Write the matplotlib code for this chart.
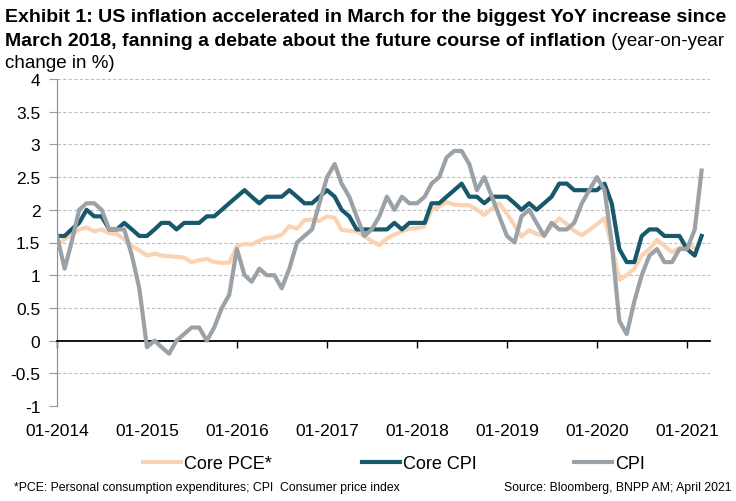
import numpy as np
import pandas as pd
import matplotlib
matplotlib.use('Agg')
import matplotlib.pyplot as plt
import matplotlib.dates as mdates
from matplotlib import font_manager

# monthly YoY % change, Jan 2014 - Mar 2021 (core PCE stops at Feb 2021)
months = pd.date_range('2014-01-01', '2021-03-01', freq='MS')

cpi = [1.6, 1.1, 1.5, 2.0, 2.1, 2.1, 2.0, 1.7, 1.7, 1.7, 1.3, 0.8,
       -0.1, 0.0, -0.1, -0.2, 0.0, 0.1, 0.2, 0.2, 0.0, 0.2, 0.5, 0.7,
       1.4, 1.0, 0.9, 1.1, 1.0, 1.0, 0.8, 1.1, 1.5, 1.6, 1.7, 2.1,
       2.5, 2.7, 2.4, 2.2, 1.9, 1.6, 1.7, 1.9, 2.2, 2.0, 2.2, 2.1,
       2.1, 2.2, 2.4, 2.5, 2.8, 2.9, 2.9, 2.7, 2.3, 2.5, 2.2, 1.9,
       1.6, 1.5, 1.9, 2.0, 1.8, 1.6, 1.8, 1.7, 1.7, 1.8, 2.1, 2.3,
       2.5, 2.3, 1.5, 0.3, 0.1, 0.6, 1.0, 1.3, 1.4, 1.2, 1.2, 1.4,
       1.4, 1.7, 2.6]

core_cpi = [1.6, 1.6, 1.7, 1.8, 2.0, 1.9, 1.9, 1.7, 1.7, 1.8, 1.7, 1.6,
            1.6, 1.7, 1.8, 1.8, 1.7, 1.8, 1.8, 1.8, 1.9, 1.9, 2.0, 2.1,
            2.2, 2.3, 2.2, 2.1, 2.2, 2.2, 2.2, 2.3, 2.2, 2.1, 2.1, 2.2,
            2.3, 2.2, 2.0, 1.9, 1.7, 1.7, 1.7, 1.7, 1.7, 1.8, 1.7, 1.8,
            1.8, 1.8, 2.1, 2.1, 2.2, 2.3, 2.4, 2.2, 2.2, 2.1, 2.2, 2.2,
            2.2, 2.1, 2.0, 2.1, 2.0, 2.1, 2.2, 2.4, 2.4, 2.3, 2.3, 2.3,
            2.3, 2.4, 2.1, 1.4, 1.2, 1.2, 1.6, 1.7, 1.7, 1.6, 1.6, 1.6,
            1.4, 1.3, 1.6]

core_pce = [1.46, 1.55, 1.62, 1.70, 1.73, 1.67, 1.70, 1.64, 1.63, 1.55, 1.45, 1.38,
            1.30, 1.33, 1.30, 1.29, 1.28, 1.27, 1.20, 1.23, 1.25, 1.20, 1.19, 1.19,
            1.44, 1.48, 1.47, 1.53, 1.57, 1.58, 1.62, 1.75, 1.71, 1.84, 1.85, 1.83,
            1.90, 1.88, 1.69, 1.68, 1.67, 1.60, 1.52, 1.46, 1.56, 1.62, 1.67, 1.71,
            1.72, 1.75, 2.00, 2.05, 2.12, 2.08, 2.07, 2.07, 2.00, 1.92, 2.02, 2.10,
            1.94, 1.76, 1.59, 1.69, 1.63, 1.61, 1.75, 1.87, 1.78, 1.68, 1.61, 1.69,
            1.78, 1.87, 1.45, 0.93, 1.00, 1.10, 1.30, 1.40, 1.54, 1.45, 1.35, 1.42,
            1.46, 1.42]

year_ticks = pd.date_range('2014-01-01', '2021-01-01', freq='YS')
y_ticks = np.arange(-1, 4.01, 0.5)

names = {f.name for f in font_manager.fontManager.ttflist}
narrow = 'Liberation Sans Narrow' if 'Liberation Sans Narrow' in names else 'Liberation Sans'
plt.rcParams['font.family'] = ['Liberation Sans', 'DejaVu Sans']

W, H = 736, 502
fig = plt.figure(figsize=(W / 100, H / 100), dpi=100)
ax = fig.add_axes([57 / W, 1 - 407 / H, (710 - 57) / W, (407 - 80) / H])

pce_line, = ax.plot(months[:len(core_pce)], core_pce, color='#F9D3B3', lw=3, zorder=3, label='Core PCE*')
core_line, = ax.plot(months, core_cpi, color='#17586B', lw=3, zorder=4, label='Core CPI')
cpi_line, = ax.plot(months, cpi, color='#9AA2A8', lw=3, zorder=5, label='CPI')

ax.set_xlim(pd.Timestamp('2014-01-01'), pd.Timestamp('2021-04-04'))
ax.set_ylim(-1, 4)

# dashed grid, solid zero line acting as the x axis
for y in y_ticks:
    if y != 0:
        ax.axhline(y, color='#BDBDBD', lw=0.8, ls=(0, (3, 2)), zorder=1)
ax.set_yticks(y_ticks)
ax.set_yticklabels(['%g' % v for v in y_ticks])
ax.tick_params(axis='y', length=6, color='#999999', labelsize=12.5, pad=6)

for s in ['top', 'right']:
    ax.spines[s].set_visible(False)
ax.spines['left'].set_color('#8C8C8C')
ax.spines['bottom'].set_position(('data', 0))
ax.spines['bottom'].set_color('black')
ax.spines['bottom'].set_linewidth(1.3)
ax.set_xticks(year_ticks)
ax.tick_params(axis='x', direction='out', length=5, width=1, labelbottom=False)

sec = ax.secondary_xaxis('bottom')
sec.spines['bottom'].set_visible(False)
sec.set_xticks(year_ticks)
sec.xaxis.set_major_formatter(mdates.DateFormatter('%m-%Y'))
sec.tick_params(axis='x', length=0, labelsize=12.5, pad=12)

# title: bold part then regular part
fs_t = 14
fig.text(5 / W, 1 - 18 / H, 'Exhibit 1: US inflation accelerated in March for the biggest YoY increase since',
         family=narrow, weight='bold', fontsize=fs_t, va='center')
t2 = fig.text(5 / W, 1 - 42 / H, 'March 2018, fanning a debate about the future course of inflation',
              family=narrow, weight='bold', fontsize=fs_t, va='center')
fig.text(5 / W, 1 - 64 / H, 'change in %)', family=narrow, fontsize=fs_t - 0.5, va='center')
fig.canvas.draw()
bb = t2.get_window_extent(fig.canvas.get_renderer())
fig.text(bb.x1 / W, 1 - 42 / H, ' (year-on-year', family=narrow, fontsize=fs_t - 0.5, va='center')

# legend entries spaced like the original
for line, x in [(pce_line, 143), (core_line, 362), (cpi_line, 574)]:
    fig.legend(handles=[line], loc='center left', bbox_to_anchor=(x / W, 1 - 465 / H),
               frameon=False, borderpad=0, borderaxespad=0, handlelength=2.1,
               handletextpad=0.15, prop={'family': narrow, 'size': 13})

fig.text(14 / W, 1 - 488 / H, '*PCE: Personal consumption expenditures; CPI  Consumer price index',
         family=narrow, fontsize=8.8, va='center')
fig.text(731 / W, 1 - 488 / H, 'Source: Bloomberg, BNPP AM; April 2021',
         family=narrow, fontsize=8.8, va='center', ha='right')

fig.savefig('out.png', dpi=100)
